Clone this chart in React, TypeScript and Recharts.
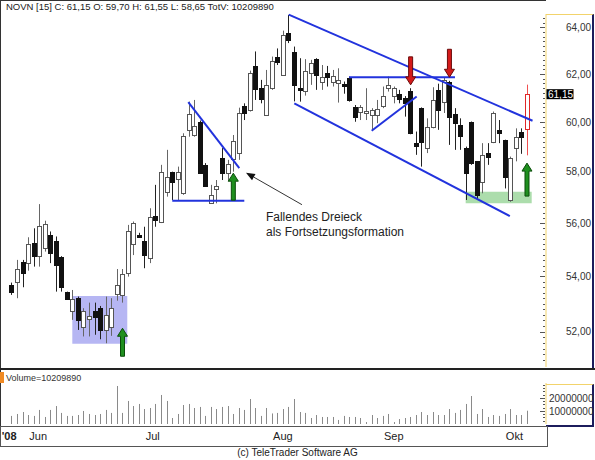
import React from "react";
import { ComposedChart, Bar, XAxis, YAxis, ReferenceLine, ReferenceArea, ReferenceDot } from "recharts";

const FONT = "'Liberation Sans', Arial, Helvetica, sans-serif";

// trading days 2008
const mai = [28, 29, 30];
const jun = [2, 3, 4, 5, 6, 9, 10, 11, 12, 13, 16, 17, 18, 19, 20, 23, 24, 25, 26, 27, 30];
const jul = [1, 2, 3, 4, 7, 8, 9, 10, 11, 14, 15, 16, 17, 18, 21, 22, 23, 24, 25, 28, 29, 30, 31];
const aug = [4, 5, 6, 7, 8, 11, 12, 13, 14, 15, 18, 19, 20, 21, 22, 25, 26, 27, 28, 29];
const sep = [1, 2, 3, 4, 5, 8, 9, 10, 11, 12, 15, 16, 17, 18, 19, 22, 23, 24, 25, 26, 29, 30];
const okt = [1, 2, 3, 6, 7];
const monthDays = [mai, jun, jul, aug, sep, okt];
const monthNames = ["'08", "Jun", "Jul", "Aug", "Sep", "Okt"];

const open = [
  53.69, 53.79, 54.55, 54.49, 55.26, 54.76, 55.05, 55.55, 55.32, 54.73,
  53.42, 52.75, 53.2, 52.18, 52.44, 52.72, 52.84, 52.06, 52.18, 53.35,
  53.32, 54.12, 55.2, 55.55, 55.33, 54.67, 56.27, 56.06, 57.21, 57.98,
  57.7, 57.15, 59.68, 59.48, 60.01, 58.27, 56.77, 57.3, 58.56, 57.96,
  58.5, 58.74, 60.67, 60.5, 62.34, 61.42, 60.29, 61.4, 62.74, 61.95,
  63.77, 62.93, 61.4, 61.3, 62.03, 62.63, 61.68, 62.03, 61.68, 61.61,
  61.58, 61.82, 60.61, 60.43, 60.36, 60.29, 60.29, 60.66, 61.4, 61.07,
  61.16, 60.98, 61.3, 59.16, 60.59, 58.96, 59.78, 61.33, 60.84, 61.68,
  60.34, 59.88, 58.94, 60.01, 58.41, 57.61, 58.74, 59.2, 59.68, 59.27,
  56.89, 58.96, 59.58, 59.7,
];
const high = [
  53.77, 54.61, 54.61, 55.46, 55.8, 56.73, 56.09, 55.68, 55.49, 54.75,
  53.44, 53.5, 53.26, 52.84, 53.04, 53.04, 52.92, 53.26, 53.2, 54.27,
  54.27, 55.93, 56.06, 55.63, 55.86, 56.57, 57.48, 58.27, 58.87, 58.0,
  58.2, 59.54, 60.84, 60.91, 60.06, 58.34, 57.48, 57.67, 58.94, 58.47,
  59.47, 60.59, 60.77, 62.14, 62.96, 61.75, 62.17, 62.74, 63.09, 63.86,
  64.55, 63.17, 62.67, 62.63, 62.6, 62.67, 62.38, 62.34, 62.17, 62.24,
  61.68, 61.89, 60.7, 60.7, 61.4, 60.57, 60.91, 61.47, 61.89, 61.47,
  61.33, 61.07, 61.4, 59.61, 60.6, 60.15, 61.44, 61.59, 61.86, 61.71,
  60.57, 60.15, 59.0, 60.02, 58.42, 59.14, 59.14, 60.43, 60.08, 59.28,
  58.6, 59.74, 59.74, 61.55,
];
const low = [
  53.32, 53.2, 53.6, 54.21, 54.36, 54.36, 54.92, 54.49, 53.44, 53.44,
  53.14, 52.42, 52.06, 51.83, 51.83, 51.89, 51.73, 51.59, 51.85, 53.11,
  53.04, 53.99, 54.79, 55.44, 54.3, 54.49, 55.86, 56.0, 57.02, 56.89,
  56.89, 57.09, 59.4, 59.4, 57.93, 57.41, 56.76, 56.76, 57.67, 57.61,
  58.0, 58.47, 60.08, 60.43, 60.91, 60.77, 60.29, 61.33, 62.38, 61.92,
  63.32, 60.85, 60.84, 61.09, 61.54, 61.33, 61.33, 61.47, 61.47, 60.8,
  61.17, 60.84, 60.01, 60.08, 60.08, 59.68, 59.95, 60.57, 61.26, 60.77,
  60.77, 60.22, 59.5, 58.67, 58.2, 58.74, 59.74, 59.68, 60.37, 59.07,
  58.87, 58.87, 56.89, 58.27, 56.89, 57.15, 58.27, 59.14, 59.14, 57.34,
  56.82, 58.41, 58.71, 58.65,
];
const close = [
  53.44, 54.27, 54.12, 55.21, 54.76, 55.9, 55.96, 54.86, 54.43, 53.6,
  53.16, 53.16, 52.42, 52.75, 52.56, 52.52, 52.06, 52.6, 52.86, 53.69,
  54.08, 55.68, 56.02, 55.47, 54.79, 56.25, 56.12, 58.0, 57.8, 57.6,
  58.0, 59.43, 60.34, 59.84, 57.94, 57.45, 57.09, 57.45, 57.94, 58.31,
  59.24, 60.37, 60.39, 62.03, 61.36, 60.94, 61.54, 62.57, 62.5, 63.67,
  63.46, 61.55, 61.33, 62.14, 62.48, 61.97, 61.86, 61.86, 61.92, 61.75,
  61.51, 60.91, 60.2, 60.63, 60.47, 60.5, 60.52, 61.07, 61.54, 61.4,
  60.94, 60.77, 59.54, 59.04, 59.2, 59.78, 60.91, 60.5, 61.75, 60.22,
  59.94, 59.41, 57.94, 58.34, 57.09, 58.67, 58.57, 60.37, 59.54, 57.8,
  58.54, 59.4, 59.38, 61.15,
];
// volume in millions
const volume = [
  6.2, 7.7, 9.2, 6.9, 6.2, 10.8, 5.4, 10.8, 13.8, 8.5,
  6.2, 6.2, 6.9, 10.0, 7.7, 6.9, 7.7, 10.8, 8.5, 29.2,
  8.5, 17.7, 13.8, 15.4, 11.5, 12.3, 15.4, 22.3, 17.7, 4.6,
  7.7, 14.6, 15.4, 12.3, 13.1, 6.2, 13.1, 11.5, 13.1, 13.8,
  7.7, 12.3, 10.8, 19.2, 12.3, 6.2, 12.3, 8.1, 8.5, 11.5,
  13.1, 19.2, 9.2, 8.5, 4.6, 6.9, 5.4, 5.4, 5.4, 3.1,
  6.2, 5.4, 5.4, 4.6, 1.5, 6.9, 4.6, 6.2, 7.7, 1.5,
  3.8, 4.6, 5.4, 6.9, 9.2, 6.9, 9.2, 6.9, 6.9, 11.5,
  8.5, 10.8, 15.4, 21.5, 7.7, 11.5, 5.4, 6.9, 6.2, 7.7,
  11.5, 6.9, 6.9, 10.20989,
];

const priceTicks = [52, 54, 56, 58, 60, 62, 64];
const minorPriceTicks = Array.from({ length: 68 }, (_, k) => Math.round((51 + k * 0.2) * 10) / 10);
const volumeTicks = [10000000, 20000000];
const minorVolumeTicks = Array.from({ length: 12 }, (_, k) => (k + 1) * 2500000);

const lastClose = close[close.length - 1];
const X_DOMAIN = [-1.11, 97.43];
const PRICE_DOMAIN = [50.76, 64.59];

const data = open.map((o, k) => ({
  i: k + 1,
  o,
  h: high[k],
  l: low[k],
  c: close[k],
  hl: [low[k], high[k]],
  v: Math.round(volume[k] * 1e6),
  last: k === open.length - 1,
}));

const monthStart: number[] = [];
monthDays.reduce((acc, m) => {
  monthStart.push(acc + 1);
  return acc + m.length;
}, 0);

const allPriceTicks = [...minorPriceTicks, lastClose].sort((a, b) => a - b);
const fmtPrice = (v: number) => v.toFixed(2).replace(".", ",");

function Candle(props: any) {
  const { x, y, width, height } = props;
  const p = props.payload ?? props;
  const top = Math.min(y, y + height);
  const bot = Math.max(y, y + height);
  const span = Math.log(p.h) - Math.log(p.l);
  const py = (v: number) => (span > 0 ? top + ((bot - top) * (Math.log(p.h) - Math.log(v))) / span : top);
  const c0 = Math.round(x + width / 2);
  const up = p.c >= p.o;
  const bt = Math.round(py(Math.max(p.o, p.c))) + 0.5;
  const bb = Math.round(py(Math.min(p.o, p.c))) + 0.5;
  const wick = p.last ? "#f05050" : up ? "#666" : "#222";
  const edge = p.last ? "#e02828" : up ? "#555" : "#111";
  return (
    <g>
      <line x1={c0 + 0.5} x2={c0 + 0.5} y1={top} y2={bot} stroke={wick} strokeWidth={1} />
      <rect x={c0 - 1.5} y={bt} width={4} height={Math.max(bb - bt, 1)} fill={up ? "#fff" : "#111"} stroke={edge} strokeWidth={1} />
    </g>
  );
}

function VolBar(props: any) {
  const { x, y, width, height } = props;
  const c0 = Math.round(x + width / 2) + 0.5;
  return <line x1={c0} x2={c0} y1={y} y2={y + height} stroke="#8a8a8a" strokeWidth={1} />;
}

function PriceTick(props: any) {
  const { x, y, payload } = props;
  const v = payload.value as number;
  if (v === lastClose) {
    return (
      <g>
        <rect x={x + 0.5} y={y - 5} width={27} height={10} fill="#000" />
        <text x={x + 2} y={y} dy="0.36em" fill="#fff" fontSize={10} fontFamily={FONT}>
          {fmtPrice(v)}
        </text>
      </g>
    );
  }
  const major = priceTicks.includes(v);
  return (
    <g>
      <line x1={x - (major ? 6 : 3)} x2={x - 1} y1={Math.round(y) + 0.5} y2={Math.round(y) + 0.5} stroke="#555" />
      {major && (
        <text x={x + 20} y={y} dy="0.36em" fill="#333" fontSize={10} fontFamily={FONT}>
          {fmtPrice(v)}
        </text>
      )}
    </g>
  );
}

function VolTick(props: any) {
  const { x, y, payload } = props;
  const v = payload.value as number;
  const major = volumeTicks.includes(v);
  return (
    <g>
      <line x1={x - (major ? 6 : 3)} x2={x - 1} y1={Math.round(y) + 0.5} y2={Math.round(y) + 0.5} stroke="#555" />
      {major && (
        <text x={x + 3} y={y} dy="0.36em" fill="#333" fontSize={10} fontFamily={FONT}>
          {String(v)}
        </text>
      )}
    </g>
  );
}

function DateTick(props: any) {
  const { x, y, payload } = props;
  const idx = monthStart.indexOf(payload.value);
  const first = idx === 0;
  return (
    <text x={first ? x - 10 : x + 1} y={y + 16} fill="#222" fontSize={11} fontWeight={first ? "bold" : "normal"} fontFamily={FONT}>
      {monthNames[idx]}
    </text>
  );
}

function Arrow(props: any) {
  const { cx, cy, dir, len, color, edge } = props;
  const s = dir === "up" ? 1 : -1;
  const pts = [
    [0, 0], [5, 8], [2, 8], [2, len], [-2, len], [-2, 8], [-5, 8],
  ]
    .map(([dx, dy]) => `${cx + dx},${cy + s * dy}`)
    .join(" ");
  return <polygon points={pts} fill={color} stroke={edge} strokeWidth={1} />;
}

function Pointer(props: any) {
  const { cx, cy } = props;
  const ex = cx + 56;
  const ey = cy + 32;
  const ang = Math.atan2(ey - cy, ex - cx);
  const bx = cx + 9 * Math.cos(ang);
  const by = cy + 9 * Math.sin(ang);
  const px = -Math.sin(ang) * 3.5;
  const py = Math.cos(ang) * 3.5;
  return (
    <g>
      <line x1={bx} y1={by} x2={ex} y2={ey} stroke="#333" strokeWidth={1} />
      <polygon points={`${cx},${cy} ${bx + px},${by + py} ${bx - px},${by - py}`} fill="#111" />
      <text x={cx + 20} y={cy + 44} dy="0.36em" fontSize={12} fill="#222" fontFamily={FONT}>
        Fallendes Dreieck
      </text>
      <text x={cx + 20} y={cy + 59} dy="0.36em" fontSize={12} fill="#222" fontFamily={FONT}>
        als Fortsetzungsformation
      </text>
    </g>
  );
}

const BLUE = "#2233dd";
const greenArrow = { dir: "up", color: "#1f8f1f", edge: "#0b4d0b" };
const redArrow = { dir: "down", color: "#d41a1a", edge: "#6a0a0a" };

export default function App() {
  return (
    <div style={{ position: "relative", width: 595, height: 460, background: "#fff", fontFamily: FONT, overflow: "hidden" }}>
      <style>{"body{margin:0}"}</style>

      {/* frames */}
      <div style={{ position: "absolute", left: 0, top: 0, width: 546, height: 369, borderTop: "1px solid #333", borderLeft: "1px solid #333", boxSizing: "border-box" }} />
      <div style={{ position: "absolute", left: 546, top: 14, width: 48, height: 355, borderTop: "1px solid #f2d36b", borderRight: "2px solid #1c1c5c", boxSizing: "border-box" }} />
      <div style={{ position: "absolute", left: 0, top: 368, width: 595, height: 2, background: "#222" }} />
      <div style={{ position: "absolute", left: 0, top: 370, width: 1, height: 56, background: "#333" }} />
      <div style={{ position: "absolute", left: 0, top: 372, width: 4, height: 11, background: "#f08a24" }} />
      <div style={{ position: "absolute", left: 546, top: 384, width: 48, height: 43, borderTop: "1px solid #f2d36b", borderRight: "2px solid #1c1c5c", borderBottom: "2px solid #1c1c5c", boxSizing: "border-box" }} />
      <div style={{ position: "absolute", left: 0, top: 426, width: 548, height: 21, border: "1px solid #555", boxSizing: "border-box" }} />

      <div style={{ position: "absolute", left: 0, top: 0 }}>
        <ComposedChart width={595} height={369} data={data} margin={{ top: 14, right: 0, bottom: 2, left: 0 }}>
          <XAxis type="number" dataKey="i" domain={X_DOMAIN} allowDataOverflow hide />
          <YAxis
            orientation="right"
            width={49}
            scale="log"
            domain={PRICE_DOMAIN}
            allowDataOverflow
            ticks={allPriceTicks}
            interval={0}
            tick={<PriceTick />}
            tickLine={false}
            tickSize={0}
            tickMargin={0}
            axisLine={{ stroke: "#f2d36b" }}
          />
          <ReferenceArea x1={11.94} x2={21.86} y1={53.28} y2={51.57} fill="#aeaef2" fillOpacity={0.9} stroke="none" />
          <ReferenceArea x1={82.93} x2={94.85} y1={57.21} y2={56.76} fill="#a3d9a3" fillOpacity={0.9} stroke="none" />
          <Bar dataKey="hl" barSize={5} shape={<Candle />} isAnimationActive={false} />
          <ReferenceLine segment={[{ x: 51, y: 64.56 }, { x: 95, y: 60.05 }]} stroke={BLUE} strokeWidth={2} />
          <ReferenceLine segment={[{ x: 52, y: 60.77 }, { x: 90.9, y: 56.27 }]} stroke={BLUE} strokeWidth={2} />
          <ReferenceLine segment={[{ x: 61.9, y: 61.86 }, { x: 81, y: 61.86 }]} stroke={BLUE} strokeWidth={2} />
          <ReferenceLine segment={[{ x: 65.97, y: 59.64 }, { x: 74.09, y: 61.05 }]} stroke={BLUE} strokeWidth={2} />
          <ReferenceLine segment={[{ x: 32.87, y: 60.82 }, { x: 42.08, y: 58.14 }]} stroke={BLUE} strokeWidth={2} />
          <ReferenceLine segment={[{ x: 29.98, y: 56.86 }, { x: 42.98, y: 56.86 }]} stroke={BLUE} strokeWidth={2} />
          <ReferenceDot x={21} y={52.12} r={1} shape={(p: any) => <Arrow {...p} {...greenArrow} len={28} />} />
          <ReferenceDot x={41} y={57.94} r={1} shape={(p: any) => <Arrow {...p} {...greenArrow} len={27} />} />
          <ReferenceDot x={94} y={58.34} r={1} shape={(p: any) => <Arrow {...p} {...greenArrow} len={33} />} />
          <ReferenceDot x={73} y={61.54} r={1} shape={(p: any) => <Arrow {...p} {...redArrow} len={28} />} />
          <ReferenceDot x={80} y={61.86} r={1} shape={(p: any) => <Arrow {...p} {...redArrow} len={28} />} />
          <ReferenceDot x={43.28} y={57.96} r={1} shape={(p: any) => <Pointer {...p} />} />
        </ComposedChart>
      </div>

      <div style={{ position: "absolute", left: 0, top: 369 }}>
        <ComposedChart width={595} height={78} data={data} margin={{ top: 14, right: 0, bottom: 0, left: 0 }}>
          <XAxis
            type="number"
            dataKey="i"
            domain={X_DOMAIN}
            allowDataOverflow
            ticks={monthStart}
            interval={0}
            tick={<DateTick />}
            tickLine={false}
            axisLine={false}
            tickSize={0}
            tickMargin={0}
            height={23}
          />
          <YAxis
            orientation="right"
            width={49}
            domain={[0, 31500000]}
            allowDataOverflow
            ticks={minorVolumeTicks}
            interval={0}
            tick={<VolTick />}
            tickLine={false}
            tickSize={0}
            tickMargin={0}
            axisLine={{ stroke: "#f2d36b" }}
          />
          <Bar dataKey="v" barSize={1} fill="#8a8a8a" shape={<VolBar />} isAnimationActive={false} />
        </ComposedChart>
      </div>

      <div style={{ position: "absolute", left: 6, top: 1, fontSize: 9.5, color: "#222", whiteSpace: "nowrap", lineHeight: "12px" }}>
        NOVN [15] C: {fmtPrice(lastClose)} O: {fmtPrice(open[open.length - 1])} H: {fmtPrice(high[high.length - 1])} L: {fmtPrice(low[low.length - 1])} TotV: {Math.round(volume[volume.length - 1] * 1e6)}
      </div>
      <div style={{ position: "absolute", left: 6, top: 372, fontSize: 9, color: "#333", whiteSpace: "nowrap", lineHeight: "12px" }}>
        Volume={Math.round(volume[volume.length - 1] * 1e6)}
      </div>
      <div style={{ position: "absolute", left: 0, top: 447, width: 595, textAlign: "center", fontSize: 10, color: "#222", lineHeight: "12px" }}>
        (c) TeleTrader Software AG
      </div>
    </div>
  );
}
